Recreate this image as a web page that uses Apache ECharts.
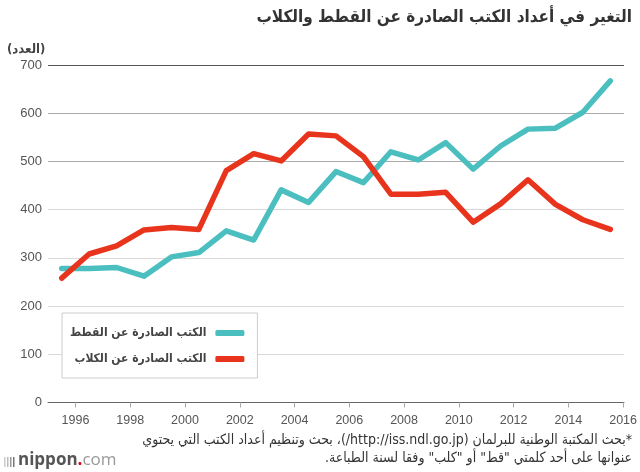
<!DOCTYPE html>
<html>
<head>
<meta charset="utf-8">
<script src="https://cdn.jsdelivr.net/npm/echarts@6/dist/echarts.min.js"></script>
<style>
html,body{margin:0;padding:0;background:#fff;}
#c{width:640px;height:472px;direction:rtl;}
</style>
</head>
<body>
<div id="c"></div>
<script>
// ---- data ----
const years = [1995,1996,1997,1998,1999,2000,2001,2002,2003,2004,2005,2006,2007,2008,2009,2010,2011,2012,2013,2014,2015];
const catBooks = [278,278,280,262,302,311,356,337,441,415,479,456,520,503,539,484,532,567,569,602,667];
const dogBooks = [258,308,325,358,363,359,481,516,501,557,553,510,432,432,436,374,412,462,411,379,359];
const catName = 'الكتب الصادرة عن القطط';
const dogName = 'الكتب الصادرة عن الكلاب';
const titleText = 'التغير في أعداد الكتب الصادرة عن القطط والكلاب';
const unitText = '(العدد)';
const noteLine1 = '*بحث المكتبة الوطنية للبرلمان (http://iss.ndl.go.jp/)، بحث وتنظيم أعداد الكتب التي يحتوي';
const noteLine2 = 'عنوانها على أحد كلمتي "قط" أو "كلب" وفقا لسنة الطباعة.';
const yTicks = [0,100,200,300,400,500,600,700];
const xTickStart = 1996, xTickEnd = 2016, xTickStep = 2;

const arFont = '"DejaVu Sans Condensed", "DejaVu Sans", sans-serif';
const numFont = '"Liberation Sans", Arial, sans-serif';

const chart = echarts.init(document.getElementById('c'), null, {renderer:'canvas'});
const toPts = arr => arr.map((v,i)=>[years[i]+0.5, v]);

chart.setOption({
  animation:false,
  backgroundColor:'#fff',
  grid:[
    {left:48, right:16, top:65, bottom:69.5},
    {left:75.5, right:16, top:65, bottom:69.5}
  ],
  xAxis:[
    {type:'value', gridIndex:0, min:1995, max:2016, interval:1,
     axisLine:{show:true, lineStyle:{color:'#666', width:1}},
     axisTick:{show:false}, axisLabel:{show:false}, splitLine:{show:false}},
    {type:'value', gridIndex:1, min:xTickStart, max:xTickEnd, interval:xTickStep,
     axisLine:{show:false},
     axisTick:{show:true, length:5, lineStyle:{color:'#aaa', width:1}},
     axisLabel:{show:true, color:'#555', fontSize:12.5, fontFamily:numFont, margin:12,
       formatter:v=>String(v)},
     splitLine:{show:false}}
  ],
  yAxis:[
    {type:'value', gridIndex:0, min:yTicks[0], max:yTicks[yTicks.length-1], interval:100,
     axisLine:{show:false}, axisTick:{show:false},
     axisLabel:{color:'#555', fontSize:13, fontFamily:numFont, margin:6},
     splitLine:{show:true, lineStyle:{width:1, color:['#666','#d8d8d8','#d8d8d8','#d8d8d8','#d8d8d8','#aaa','#aaa','#555']}}},
    {type:'value', gridIndex:1, min:0, max:700, show:false}
  ],
  legend:{
    orient:'vertical', left:62, top:313,
    align:'right',
    backgroundColor:'#fff', borderColor:'#ccc', borderWidth:1,
    padding:[14,13,13,8], itemGap:14,
    itemWidth:29, itemHeight:6, icon:'roundRect',
    textStyle:{color:'#444', fontSize:12, fontWeight:'bold', fontFamily:arFont, padding:[0,4,0,0]},
    data:[catName, dogName]
  },
  title:[
    {text:titleText, right:3, top:4,
     textStyle:{color:'#333', fontSize:17, fontWeight:'bold', fontFamily:arFont}},
    {text:unitText, left:2, top:38,
     textStyle:{color:'#444', fontSize:13, fontWeight:'bold', fontFamily:arFont}}
  ],
  graphic:[
    {type:'text', right:8, top:433, style:{text:noteLine1, fill:'#333', font:'14px '+arFont, textAlign:'right'}},
    {type:'text', right:8, top:451, style:{text:noteLine2, fill:'#333', font:'14px '+arFont, textAlign:'right'}},
    {type:'rect', shape:{x:4, y:457, width:1.5, height:10}, style:{fill:'#ccc'}},
    {type:'rect', shape:{x:7, y:457, width:1.5, height:10}, style:{fill:'#bbb'}},
    {type:'rect', shape:{x:10, y:457, width:1.5, height:10}, style:{fill:'#999'}},
    {type:'rect', shape:{x:13, y:457, width:1.5, height:10}, style:{fill:'#777'}},
    {type:'text', left:18, top:452, style:{
      text:'{a|nippon}{b|.}{c|com}',
      rich:{
        a:{fill:'#555', font:'bold 17px "Open Sans", sans-serif'},
        b:{fill:'#e60012', font:'bold 17px "Open Sans", sans-serif'},
        c:{fill:'#999', font:'17px "Open Sans", sans-serif'}
      }}}
  ],
  series:[
    {name:catName, type:'line', xAxisIndex:0, yAxisIndex:0, data:toPts(catBooks),
     symbol:'none', lineStyle:{color:'#4bbfbf', width:5.5, cap:'round', join:'round'}, itemStyle:{color:'#4bbfbf'}},
    {name:dogName, type:'line', xAxisIndex:0, yAxisIndex:0, data:toPts(dogBooks),
     symbol:'none', lineStyle:{color:'#e8341c', width:5.5, cap:'round', join:'round'}, itemStyle:{color:'#e8341c'}}
  ]
});
</script>
</body>
</html>
